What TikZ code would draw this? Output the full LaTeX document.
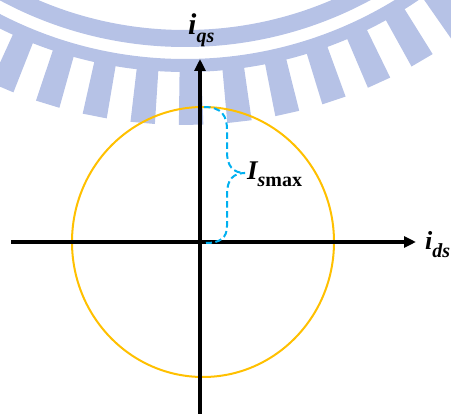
\documentclass[tikz,border=0pt]{standalone}
\usepackage{fontspec}
\setmainfont{Liberation Serif}
\usetikzlibrary{arrows.meta}
\definecolor{oro}{HTML}{FFC000}
\definecolor{celeste}{HTML}{00B0F0}
\definecolor{marca}{HTML}{B6C2E6}
\newcommand{\corr}[3]{{\fontsize{#1}{#1}\selectfont\bfseries\itshape #2}\raisebox{-8pt}{\fontsize{20}{20}\selectfont\bfseries\itshape #3}}

\begin{document}
\begin{tikzpicture}[x=1pt, y=-1pt, >={Triangle[length=12pt, width=11pt]},
      eje/.style={line width=3.4pt},
      lbl/.style={inner sep=0pt, anchor=base west}]
    \useasboundingbox (0,0) rectangle (451,414);
    \clip (0,0) rectangle (451,414);
    % marca de agua del fondo
    \coordinate (cm) at (185,-343);
    \draw[marca, line width=17pt] (cm) circle[radius=381.5pt];
    \draw[marca, line width=13pt] (cm) circle[radius=408.5pt];
    \foreach \k in {-5,...,6} {
      \pgfmathsetmacro{\ang}{89.25-5.94*\k}
      \fill[marca] ({185+414*cos(\ang-1.5)},{-343+414*sin(\ang-1.5)})
        -- ({185+414*cos(\ang+1.5)},{-343+414*sin(\ang+1.5)})
        -- ({185+468*cos(\ang+1.5)},{-343+468*sin(\ang+1.5)})
        -- ({185+468*cos(\ang-1.5)},{-343+468*sin(\ang-1.5)}) -- cycle;
    }
    \coordinate (izq) at (11,242);
    \coordinate (der) at (416,242);
    \coordinate (abajo) at (200,414);
    \coordinate (arriba) at (200,59);
    \draw[oro, line width=2pt] (203,242) ellipse [x radius=131, y radius=135];
    \draw[eje, ->] (izq) -- (der);
    \draw[eje, ->] (abajo) -- (arriba);
    \coordinate (stop) at (204,107);
    \coordinate (sbot) at (206,243);
    \coordinate (pico) at (245,173);
    \draw[celeste, line width=2pt, dash pattern=on 6.5pt off 3.5pt]
      (stop) .. controls (222,107) and (227,116) .. (227,130)
      -- (227,152) .. controls (227,166) and (233,173) .. (pico)
      .. controls (233,173) and (227,180) .. (227,194)
      -- (227,226) .. controls (227,238) and (220,243) .. (sbot);
    \node[lbl] (iqs) at (188,35) {\corr{30}{i}{qs}};
    \node[lbl] (ids) at (425,250) {\corr{26}{i}{ds}};
    \node[lbl] (ismax) at (247,180) {{\fontsize{27}{27}\selectfont\bfseries\itshape I}\raisebox{-7pt}{\fontsize{20}{20}\selectfont\bfseries{\itshape s}max}};
  \end{tikzpicture}
\end{document}
